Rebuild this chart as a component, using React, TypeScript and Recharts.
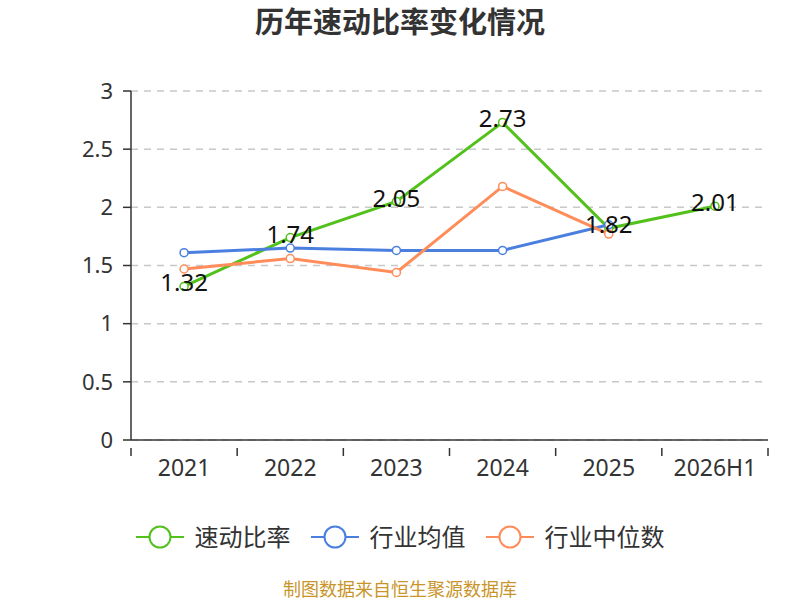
import React from 'react';
import { LineChart, Line, XAxis, YAxis, CartesianGrid } from 'recharts';

const years = ['2021', '2022', '2023', '2024', '2025', '2026H1'];
const quickRatio = [1.32, 1.74, 2.05, 2.73, 1.82, 2.01];
const industryAvg = [1.61, 1.65, 1.63, 1.63, 1.85, null];
const industryMedian = [1.47, 1.56, 1.44, 2.18, 1.77, null];
const yTicks = [0, 0.5, 1, 1.5, 2, 2.5, 3];

const SERIES = [
  { key: 'quick', name: '速动比率', color: '#52c11b' },
  { key: 'avg', name: '行业均值', color: '#4a7fe0' },
  { key: 'median', name: '行业中位数', color: '#ff8c59' },
];

const FONT = '"Noto Sans", "Noto Sans CJK SC", sans-serif';

const data = years.map((y, i) => ({
  year: y,
  quick: quickRatio[i],
  avg: industryAvg[i],
  median: industryMedian[i],
}));

const PLOT_LEFT = 131;
const PLOT_RIGHT = 32;
const CHART_W = 800;
const BAND = (CHART_W - PLOT_LEFT - PLOT_RIGHT) / years.length;

const XTick = (props: any) => {
  const { x, y, payload, index } = props;
  return (
    <g>
      <line x1={x - BAND / 2} y1={y} x2={x - BAND / 2} y2={y + 8} stroke="#333" strokeWidth={1.5} />
      {index === years.length - 1 && (
        <line x1={x + BAND / 2} y1={y} x2={x + BAND / 2} y2={y + 8} stroke="#333" strokeWidth={1.5} />
      )}
      <text x={x} y={y + 28} textAnchor="middle" fill="#333" fontSize={23} fontFamily={FONT}>
        {payload.value}
      </text>
    </g>
  );
};

const ValueLabel = (props: any) => {
  const { x, y, value } = props;
  if (value == null) return null;
  return (
    <text x={x} y={y + 5} textAnchor="middle" fill="#111" fontSize={24} fontFamily={FONT}>
      {value.toFixed(2)}
    </text>
  );
};

const ChartLegend = () => (
  <div
    style={{
      position: 'absolute', top: 522, left: 0, width: 800,
      display: 'flex', justifyContent: 'center', gap: 20, fontFamily: FONT,
    }}
  >
    {SERIES.map(s => (
      <div key={s.key} style={{ display: 'flex', alignItems: 'center', gap: 11 }}>
        <svg width={48} height={28}>
          <line x1={0} y1={14} x2={48} y2={14} stroke={s.color} strokeWidth={2} />
          <circle cx={24} cy={14} r={10.5} fill="#fff" stroke={s.color} strokeWidth={2} />
        </svg>
        <span style={{ fontSize: 24, color: '#333', lineHeight: '30px' }}>{s.name}</span>
      </div>
    ))}
  </div>
);

export default function App() {
  return (
    <div style={{ position: 'absolute', left: 0, top: 0, width: 800, height: 600, background: '#fff' }}>
      <div
        style={{
          position: 'absolute', top: 2, width: 800, textAlign: 'center',
          fontSize: 29, lineHeight: '40px', fontWeight: 'bold', color: '#333', fontFamily: FONT,
        }}
      >
        历年速动比率变化情况
      </div>
      <LineChart
        width={800}
        height={600}
        data={data}
        margin={{ top: 91, right: PLOT_RIGHT, bottom: 100, left: 0 }}
      >
        <CartesianGrid vertical={false} stroke="#c8c8c8" strokeDasharray="7 6" strokeWidth={1.5} />
        <XAxis
          dataKey="year"
          height={60}
          tickLine={false}
          axisLine={{ stroke: '#333', strokeWidth: 1.5 }}
          tick={<XTick />}
          interval={0}
          padding={{ left: BAND / 2, right: BAND / 2 }}
        />
        <YAxis
          width={PLOT_LEFT}
          domain={[0, 3]}
          ticks={yTicks}
          tickSize={8}
          tickMargin={10}
          axisLine={{ stroke: '#333', strokeWidth: 1.5 }}
          tickLine={{ stroke: '#333', strokeWidth: 1.5 }}
          tick={{ fill: '#333', fontSize: 22, fontFamily: FONT }}
        />
        <Line
          dataKey="quick"
          name="速动比率"
          stroke={SERIES[0].color}
          strokeWidth={3}
          dot={{ r: 4, fill: '#fff', stroke: SERIES[0].color, strokeWidth: 1.5 }}
          label={<ValueLabel />}
          isAnimationActive={false}
        />
        <Line
          dataKey="avg"
          name="行业均值"
          stroke={SERIES[1].color}
          strokeWidth={3}
          dot={{ r: 4, fill: '#fff', stroke: SERIES[1].color, strokeWidth: 1.5 }}
          isAnimationActive={false}
        />
        <Line
          dataKey="median"
          name="行业中位数"
          stroke={SERIES[2].color}
          strokeWidth={3}
          dot={{ r: 4, fill: '#fff', stroke: SERIES[2].color, strokeWidth: 1.5 }}
          isAnimationActive={false}
        />
      </LineChart>
      <ChartLegend />
      <div
        style={{
          position: 'absolute', top: 577, width: 800, textAlign: 'center',
          fontSize: 18, lineHeight: '24px', color: '#c9952b', fontFamily: FONT,
        }}
      >
        制图数据来自恒生聚源数据库
      </div>
    </div>
  );
}
